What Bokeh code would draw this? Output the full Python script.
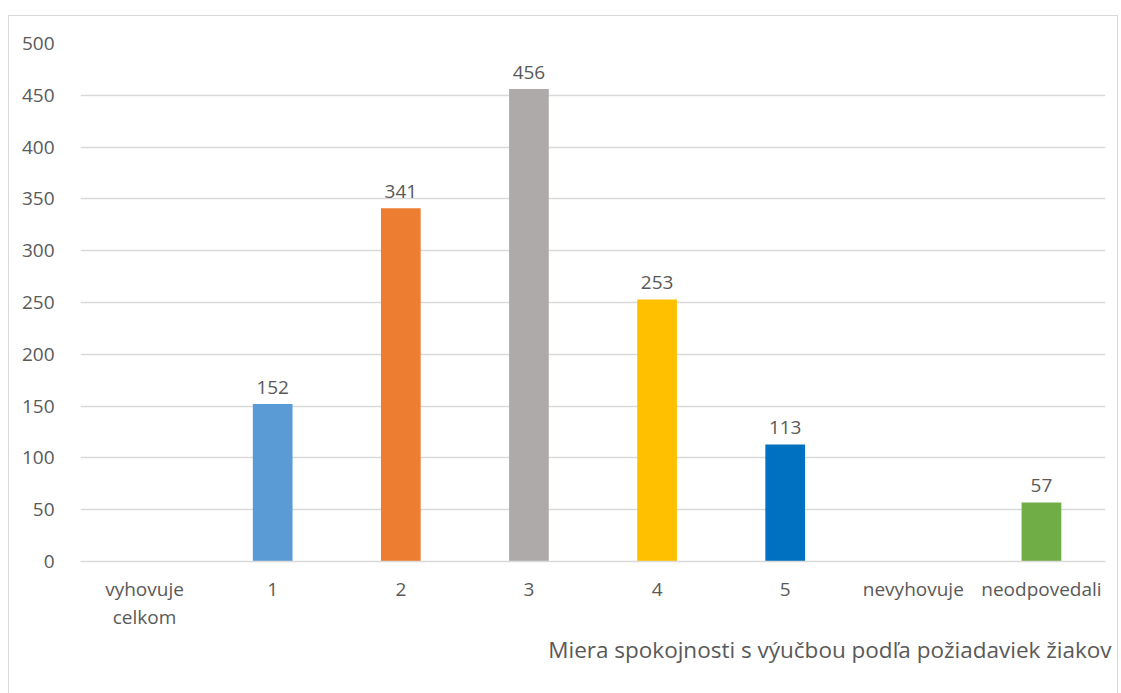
from bokeh.plotting import figure
from bokeh.models import ColumnDataSource, FixedTicker, Title, Range1d, FactorRange
from bokeh.core.properties import value
from bokeh.embed import file_html
from bokeh.resources import INLINE

categories = ["vyhovuje\ncelkom", "1", "2", "3", "4", "5", "nevyhovuje", "neodpovedali"]
counts = [0, 152, 341, 456, 253, 113, 0, 57]
colors = ["#FFFFFF", "#5B9BD5", "#ED7D31", "#AEAAAA", "#FFC000", "#0070C0", "#FFFFFF", "#70AD47"]
labels = ["", "152", "341", "456", "253", "113", "", "57"]
y_ticks = [0, 50, 100, 150, 200, 250, 300, 350, 400, 450, 500]
x_title = "Miera spokojnosti s výučbou podľa požiadaviek žiakov"

FONT = "Open Sans"
TXT = "#595959"
GRID = "#D9D9D9"

bars = [(c, v, col) for c, v, col in zip(categories, counts, colors) if v > 0]
src = ColumnDataSource(dict(
    cat=[b[0] for b in bars], val=[b[1] for b in bars], color=[b[2] for b in bars],
))
lab_src = ColumnDataSource(dict(
    cat=[c for c, l in zip(categories, labels) if l],
    val=[v for v, l in zip(counts, labels) if l],
    txt=[l for l in labels if l],
))

p = figure(
    x_range=FactorRange(*categories, range_padding=0),
    y_range=Range1d(0, 500),
    width=1110, height=680,
    output_backend="svg", toolbar_location=None,
    min_border_left=71, min_border_right=14, min_border_top=27, min_border_bottom=135,
)
p.styles = {"margin-left": "8px", "margin-top": "15px", "border": "1px solid #D9D9D9"}
p.outline_line_color = None
p.background_fill_color = "white"
p.border_fill_color = "white"

p.vbar(x="cat", top="val", width=0.31, color="color", line_color=None, source=src)
p.text(x="cat", y="val", text="txt", source=lab_src, y_offset=-10,
       text_align="center", text_baseline="bottom",
       text_font=value(FONT), text_font_size="19px", text_color=TXT)

p.xgrid.grid_line_color = None
p.ygrid.grid_line_color = GRID
p.ygrid.grid_line_width = 1.5
p.yaxis.ticker = FixedTicker(ticks=y_ticks)
p.yaxis.axis_line_color = None
p.yaxis.major_tick_line_color = None
p.yaxis.minor_tick_line_color = None
p.yaxis.major_label_standoff = 20
p.yaxis.major_label_text_font = FONT
p.yaxis.major_label_text_font_size = "19px"
p.yaxis.major_label_text_color = TXT

p.xaxis.axis_line_color = GRID
p.xaxis.axis_line_width = 1.5
p.xaxis.major_tick_line_color = None
p.xaxis.minor_tick_line_color = None
p.xaxis.major_label_standoff = 8
p.xaxis.major_label_text_font = FONT
p.xaxis.major_label_text_font_size = "19px"
p.xaxis.major_label_text_line_height = 1.1
p.xaxis.major_label_text_color = TXT

title = Title(text=x_title, align="right", text_font=FONT, text_font_size="22.5px",
              text_color=TXT, text_font_style="normal", standoff=0, offset=-6,
              text_line_height=0.1, vertical_align="top")
p.add_layout(title, "below")

open("out.html", "w").write(file_html(p, INLINE))
